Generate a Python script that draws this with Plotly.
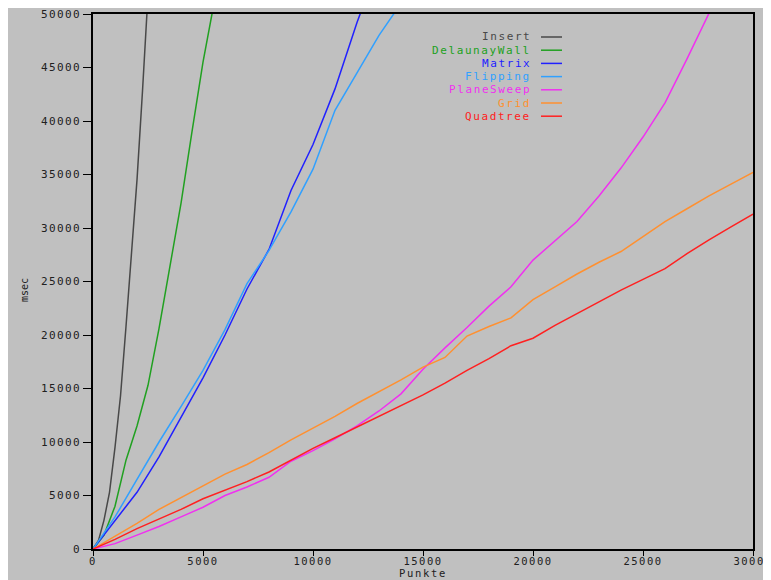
import plotly.graph_objects as go

# ---- data ----
insert_x = [0, 250, 500, 750, 1000, 1250, 1500, 1750, 2000, 2250, 2500]
insert_y = [0, 800, 2700, 5300, 9500, 14300, 20800, 27500, 34500, 42800, 51800]

delaunay_x = [0, 500, 1000, 1500, 2000, 2500, 3000, 3500, 4000, 4500, 5000, 5500]
delaunay_y = [0, 1300, 4000, 8300, 11500, 15300, 20600, 26300, 32300, 39000, 45500, 51000]

matrix_x = [0, 1000, 2000, 3000, 4000, 5000, 6000, 7000, 8000, 9000, 10000, 11000, 12000, 12500]
matrix_y = [0, 2600, 5300, 8600, 12300, 16000, 20000, 24300, 28000, 33500, 37800, 43000, 49200, 52000]

flipping_x = [0, 1000, 2000, 3000, 4000, 5000, 6000, 7000, 8000, 9000, 10000, 11000, 12000, 13000, 13700]
flipping_y = [0, 3000, 6500, 10000, 13300, 16700, 20500, 24800, 27900, 31500, 35500, 41000, 44500, 48000, 50100]

planesweep_x = [0, 1000, 2000, 3000, 4000, 5000, 6000, 7000, 8000, 9000, 10000, 11000, 12000, 13000, 14000,
                15000, 16000, 17000, 18000, 19000, 20000, 21000, 22000, 23000, 24000, 25000, 26000, 27000, 28000, 28500]
planesweep_y = [0, 500, 1300, 2100, 3000, 3900, 5000, 5800, 6700, 8200, 9200, 10300, 11500, 12900, 14500,
                16800, 18800, 20700, 22700, 24500, 27000, 28800, 30600, 33000, 35600, 38500, 41700, 45800, 50000, 52200]

grid_x = [0, 1000, 2000, 3000, 4000, 5000, 6000, 7000, 8000, 9000, 10000, 11000, 12000, 13000, 14000, 15000,
          16000, 17000, 18000, 19000, 20000, 21000, 22000, 23000, 24000, 25000, 26000, 27000, 28000, 29000, 30000]
grid_y = [0, 1200, 2400, 3700, 4800, 5900, 7000, 7900, 9000, 10200, 11300, 12400, 13600, 14700, 15800, 17000,
          17900, 19900, 20800, 21600, 23300, 24500, 25700, 26800, 27800, 29200, 30600, 31800, 33000, 34100, 35200]

quadtree_x = grid_x
quadtree_y = [0, 900, 1900, 2800, 3700, 4700, 5500, 6300, 7200, 8300, 9400, 10400, 11400, 12400, 13400, 14400,
              15500, 16700, 17800, 19000, 19700, 20900, 22000, 23100, 24200, 25200, 26200, 27600, 28900, 30100, 31300]

series_names = ["Insert", "DelaunayWall", "Matrix", "Flipping", "PlaneSweep", "Grid", "Quadtree"]
series_colors = ["#484848", "#20a020", "#2020ff", "#30a0ff", "#f030f0", "#ff9030", "#ff2020"]
series_data = [(insert_x, insert_y), (delaunay_x, delaunay_y), (matrix_x, matrix_y),
               (flipping_x, flipping_y), (planesweep_x, planesweep_y), (grid_x, grid_y),
               (quadtree_x, quadtree_y)]

x_ticks = [0, 5000, 10000, 15000, 20000, 25000, 30000]
y_ticks = [0, 5000, 10000, 15000, 20000, 25000, 30000, 35000, 40000, 45000, 50000]

FONT = "DejaVu Sans Mono"
BG = "#c0c0c0"

# The page has an 8px body margin, so the figure starts at (8, 8) on screen.
OFF = 8
W, H = 771, 580
# target on-screen plot box: x 93..753, y 14..549
L = 93 - OFF
T = 14 - OFF
R = W - (753 - OFF)
B = H - (549 - OFF)
PW, PH = W - L - R, H - T - B


def px_x(p):
    return (p - OFF - L) / PW


def px_y(p):
    return (H - B - (p - OFF)) / PH


def spaced(s, sp):
    return "<span style='letter-spacing:%spx'>%s</span>" % (sp, s)


fig = go.Figure()
for name, color, (xs, ys) in zip(series_names, series_colors, series_data):
    fig.add_trace(go.Scatter(x=xs, y=ys, mode="lines", name=name,
                             line=dict(color=color, width=1.5), showlegend=False))

shapes = []
annotations = []

# custom legend: right-aligned text then a line sample
leg_y0 = 37
leg_dy = 13.2
for i, (name, color) in enumerate(zip(series_names, series_colors)):
    yy = px_y(leg_y0 + i * leg_dy)
    annotations.append(dict(x=px_x(532), y=yy, xref="paper", yref="paper", text=spaced(name, 1.6),
                            showarrow=False, xanchor="right", yanchor="middle", borderpad=0,
                            font=dict(family=FONT, size=11, color=color)))
    shapes.append(dict(type="line", xref="paper", yref="paper",
                       x0=px_x(541), x1=px_x(562), y0=yy, y1=yy,
                       line=dict(color=color, width=1.5)))

# axis titles
annotations.append(dict(x=0.5, y=px_y(580), xref="paper", yref="paper", text=spaced("Punkte", 1.7),
                        showarrow=False, xanchor="center", yanchor="bottom", borderpad=0,
                        font=dict(family=FONT, size=10.5, color="#202020")))
annotations.append(dict(x=px_x(24), y=px_y(290), xref="paper", yref="paper", text="msec",
                        showarrow=False, xanchor="center", yanchor="middle", textangle=-90,
                        font=dict(family=FONT, size=10, color="#202020")))

fig.update_layout(
    width=W, height=H,
    margin=dict(l=L, r=R, t=T, b=B, autoexpand=False),
    paper_bgcolor=BG, plot_bgcolor=BG,
    font=dict(family=FONT, size=11, color="#202020"),
    shapes=shapes, annotations=annotations,
    xaxis=dict(range=[0, 30000], tickvals=x_ticks, ticktext=[spaced(v, 1.5) for v in x_ticks],
               showgrid=False, zeroline=False, showline=True, linecolor="#000000", linewidth=1.5,
               mirror=True, ticks="outside", ticklen=5, tickcolor="#000000", automargin=False,
               ticklabeloverflow="allow", ticklabelstandoff=-3,
               tickfont=dict(family=FONT, size=10.5, color="#202020")),
    yaxis=dict(range=[0, 50000], tickvals=y_ticks, ticktext=[spaced(v, 1.4) for v in y_ticks],
               showgrid=False, zeroline=False, showline=True, linecolor="#000000", linewidth=1.5,
               mirror=True, ticks="outside", ticklen=8, tickcolor="#000000", automargin=False,
               ticklabeloverflow="allow",
               tickfont=dict(family=FONT, size=11, color="#202020")),
)

fig.write_html("out.html")
